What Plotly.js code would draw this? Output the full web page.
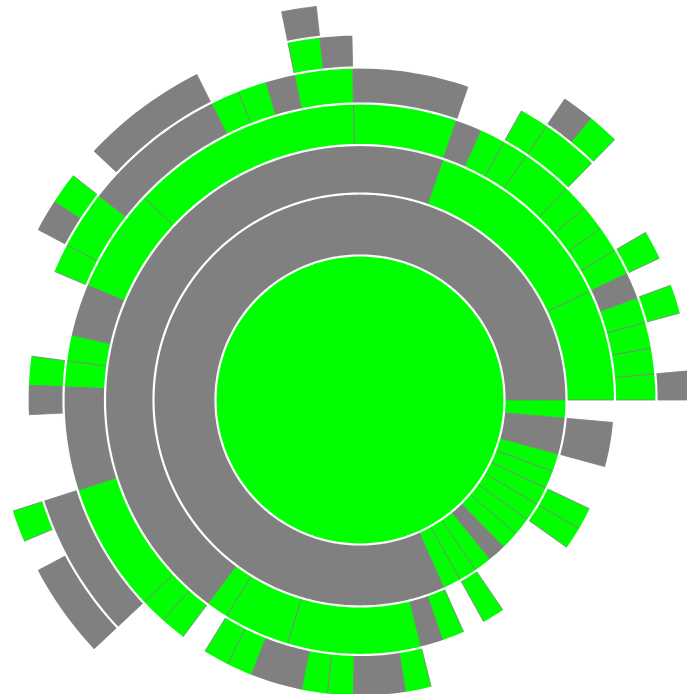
<!DOCTYPE html>
<html><head><meta charset="utf-8">
<script src="https://cdn.plot.ly/plotly-3.0.1.min.js"></script>
<style>
html,body{margin:0;padding:0;width:687px;height:694px;overflow:hidden;background:#fff;}
#chart{position:absolute;left:-140px;top:-100.5px;width:1000px;height:1000px;}
</style></head><body><div id="chart"></div>
<script>
// Partition data. Each ring lists its nodes counter-clockwise from 0deg (east),
// sized in leaf counts; '' marks an empty stretch (the parent there is a leaf).
const ring1Sizes  = [71];
const ring1Colors = ['G'];
const ring2Sizes  = [58,1,1,1,1,1,1,1,1,1,1,2,1];
const ring2Colors = ['K','G','G','G','K','G','G','G','G','G','G','K','G'];
const ring3Sizes  = [5,9,32,1,3,6,1,1,1,1,4,1,1,2,2,1];
const ring3Colors = ['G','G','K','G','G','G','K','G','','G','','G','G','','K',''];
const ring4Sizes  = [1,1,1,1,1, 1,1,1,1, 2,1,1,1, 4,9,4,2,1,1,4,5,1,1, 1, 1,1,1,1,1,1,2,1, 15];
const ring4Colors = ['G','G','G','G','K', 'G','G','G','G', 'G','G','G','K', 'G','G','G','K','G','G','K','G','G','G', '', 'G','G','K','K','G','G','K','G', ''];
const ring5Sizes  = [1,2,1,1,1,3,2,1,2, 4,2,1,1,1,4,1,2,1, 3,1,1,3,5,27];
const ring5Colors = ['K','','G','','G','','G','G','', 'K','G','K','G','G','K','K','G','G', '','G','K','','K',''];
const ring6Sizes  = [9,1,1,7,1,1,3,4,1,1,1,9,1,1,3,27];
const ring6Colors = ['','G','K','','K','G','','K','','G','K','','G','','K',''];
const ring7Sizes  = [19,1,51];
const ring7Colors = ['','K',''];

// styling / scale
const ringEdges = [0,144.5,206.5,255,296.5,332.5,365.5,396];   // px radius of ring boundaries
const palette = {G:'#00ff00', K:'#808080'};

const rings = [[ring1Sizes,ring1Colors],[ring2Sizes,ring2Colors],[ring3Sizes,ring3Colors],
  [ring4Sizes,ring4Colors],[ring5Sizes,ring5Colors],[ring6Sizes,ring6Colors],[ring7Sizes,ring7Colors]];
const total = ring1Sizes.reduce((a,b)=>a+b,0);
const unit = 360/total;

const traces = rings.map(([sizes, colors], i) => {
  const theta=[], width=[], base=[], r=[], col=[];
  let pos = 0;
  sizes.forEach((s,j) => {
    if (colors[j]) {
      theta.push((pos + s/2)*unit); width.push(s*unit);
      base.push(ringEdges[i]); r.push(ringEdges[i+1]-ringEdges[i]);
      col.push(palette[colors[j]]);
    }
    pos += s;
  });
  return {type:'barpolar', theta, width, base, r,
    marker:{color:col, line:{color:'#808080', width:0.8}},
    hoverinfo:'skip', showlegend:false};
});

// white separating arcs between levels
const circTheta = [];
for (let a=0; a<=360; a+=1) circTheta.push(a);
for (let i=1; i<=6; i++) {
  traces.push({type:'scatterpolar', mode:'lines', theta:circTheta,
    r:circTheta.map(()=>ringEdges[i]), line:{color:'#ffffff', width:2.2},
    hoverinfo:'skip', showlegend:false});
}

const layout = {
  width:1000, height:1000, autosize:false,
  margin:{l:0,r:0,t:0,b:0,pad:0},
  paper_bgcolor:'#ffffff', showlegend:false,
  polar:{
    domain:{x:[0,1],y:[0,1]}, bgcolor:'#ffffff', barmode:'overlay',
    radialaxis:{visible:false, range:[0,500], showgrid:false},
    angularaxis:{visible:false, rotation:0, direction:'counterclockwise', showgrid:false, showline:false}
  }
};
Plotly.newPlot('chart', traces, layout, {staticPlot:true, displayModeBar:false});
</script></body></html>
